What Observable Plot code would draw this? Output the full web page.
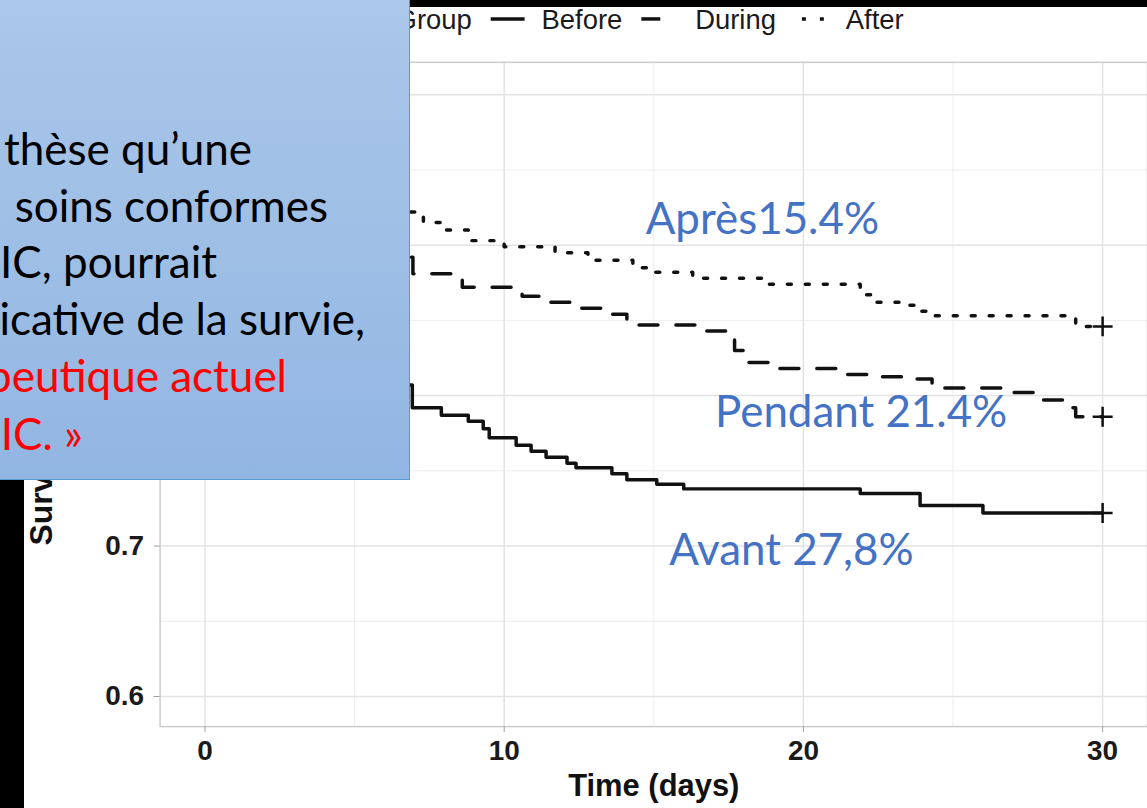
<!DOCTYPE html>
<html>
<head>
<meta charset="utf-8">
<script src="https://cdn.jsdelivr.net/npm/d3@7"></script>
<script src="https://cdn.jsdelivr.net/npm/@observablehq/plot@0.6"></script>
<style>
  html, body { margin: 0; padding: 0; background: #fff; overflow: hidden; width: 1147px; height: 808px; }
  #chart { position: absolute; left: 0; top: 0; }
  #topbar { position: absolute; left: 0; top: 0; width: 1147px; height: 7px; background: #000; }
  #leftbar { position: absolute; left: 0; top: 0; width: 24px; height: 808px; background: #000; }
  #note {
    position: absolute; left: 0; top: 0; width: 409px; height: 479px; overflow: hidden;
    background: linear-gradient(#abc7e9, #92b6e2);
    border-right: 1.5px solid #5b9bd5; border-bottom: 1.5px solid #5b9bd5;
  }
  #note svg { display: block; }
</style>
</head>
<body>
<div id="chart"></div>
<div id="topbar"></div>
<div id="leftbar"></div>
<div id="note"></div>
<script>
// Kaplan–Meier survival by period (days 0–30)
const groups = ["Before", "During", "After"];

const beforeDays = [0, 1.5, 3, 4.5, 6, 6.5, 6.93, 7.9, 8.8, 9.3, 9.5, 10.4, 10.9, 11.4, 12.1, 12.4, 13.6, 14.1, 15.1, 16.0, 21.9, 23.9, 26.0, 30];
const beforeSurv = [1.0, 0.93, 0.88, 0.85, 0.82, 0.807, 0.792, 0.787, 0.783, 0.778, 0.772, 0.767, 0.763, 0.759, 0.755, 0.752, 0.748, 0.744, 0.741, 0.738, 0.735, 0.727, 0.722, 0.722];

const duringDays = [0, 2, 4, 6, 6.6, 6.95, 8.6, 10.6, 11.2, 12.4, 13.6, 14.1, 16.7, 17.4, 17.7, 18.1, 19.1, 21.4, 22.3, 23.8, 24.3, 26.9, 27.9, 28.8, 29.1, 30];
const duringSurv = [1.0, 0.96, 0.93, 0.90, 0.892, 0.881, 0.872, 0.866, 0.862, 0.858, 0.854, 0.847, 0.843, 0.837, 0.830, 0.822, 0.818, 0.814, 0.8126, 0.811, 0.805, 0.802, 0.797, 0.792, 0.786, 0.786];

const afterDays = [0, 2, 4, 6, 6.5, 7.3, 7.9, 8.8, 10.0, 11.7, 12.8, 14.3, 14.8, 16.3, 18.6, 21.9, 22.4, 23.4, 23.9, 24.4, 29.1, 30];
const afterSurv = [1.0, 0.97, 0.95, 0.93, 0.922, 0.915, 0.910, 0.903, 0.899, 0.895, 0.890, 0.885, 0.882, 0.878, 0.874, 0.867, 0.862, 0.860, 0.856, 0.853, 0.846, 0.846];

const labelTexts = ["Après15.4%", "Pendant 21.4%", "Avant 27,8%"];
const labelDays = [18.63, 21.93, 19.6];
const labelSurv = [0.9076, 0.7792, 0.6876];

const xMajor = [0, 10, 20, 30];
const xMinor = [5, 15, 25];
const yMajor = [0.6, 0.7, 0.8, 0.9, 1.0];
const yMinor = [0.65, 0.75, 0.85, 0.95];

const xLabel = "Time (days)";
const yLabel = "Survival probability";
const legendTitle = "Group";

const noteLines = [
  {text: "thèse qu’une", red: false},
  {text: "soins conformes", red: false},
  {text: "IC, pourrait", red: false},
  {text: "icative de la survie,", red: false},
  {text: "peutique actuel", red: true},
  {text: "IC. »", red: true}
];

// long-format rows for the curves
const toRows = (group, days, surv) => days.map((d, i) => ({group, day: d, surv: surv[i]}));
const series = {
  Before: toRows("Before", beforeDays, beforeSurv),
  During: toRows("During", duringDays, duringSurv),
  After: toRows("After", afterDays, afterSurv)
};
const dashes = {Before: null, During: "19 18", After: "4 14"};
const censored = groups.map(g => series[g][series[g].length - 1]);
const labels = labelTexts.map((t, i) => ({text: t, day: labelDays[i], surv: labelSurv[i]}));

const ink = "#111";

const chart = Plot.plot({
  width: 1150,
  height: 808,
  marginLeft: 160,
  marginRight: 0,
  marginTop: 62,
  marginBottom: 80,
  style: {fontFamily: "Liberation Sans, Arial, sans-serif", background: "transparent", overflow: "visible"},
  x: {domain: [-1.5, 31.5]},
  y: {domain: [0.58, 1.0215]},
  marks: [
    Plot.gridY(yMinor, {stroke: "#ededed", strokeOpacity: 1, strokeWidth: 1}),
    Plot.gridX(xMinor, {stroke: "#ededed", strokeOpacity: 1, strokeWidth: 1}),
    Plot.gridY(yMajor, {stroke: "#e3e3e3", strokeOpacity: 1, strokeWidth: 1.5}),
    Plot.gridX(xMajor, {stroke: "#e3e3e3", strokeOpacity: 1, strokeWidth: 1.5}),
    Plot.frame({stroke: "#cccccc", strokeWidth: 1.5}),
    Plot.axisY(yMajor, {
      tickSize: 6, tickPadding: 10, tickFormat: d => d.toFixed(1),
      fontSize: 28, fontWeight: "bold", stroke: "#a0a0a0", fill: "#1a1a1a", label: null
    }),
    Plot.axisX(xMajor, {
      tickSize: 6, tickPadding: 8, tickFormat: d => String(d),
      fontSize: 28, fontWeight: "bold", stroke: "#a0a0a0", fill: "#1a1a1a", label: null
    }),
    ...groups.map(g => Plot.line(series[g], {
      x: "day", y: "surv", curve: "step-after",
      stroke: ink, strokeWidth: 3.5, strokeDasharray: dashes[g]
    })),
    Plot.dot(censored, {x: "day", y: "surv", symbol: "plus", r: 6.5, stroke: ink, strokeWidth: 2.5}),
    Plot.text(labels, {
      x: "day", y: "surv", text: "text", fill: "#4472c4",
      fontSize: 44, fontFamily: "Lato", textAnchor: "middle", lineAnchor: "bottom"
    }),
    Plot.text([xLabel], {frameAnchor: "bottom", dy: 70, fontSize: 31, fontWeight: "bold", fill: ink})
  ]
});

document.getElementById("chart").appendChild(chart);

// y axis title and legend strip
const svg = d3.select(chart);
svg.append("text")
  .attr("transform", "translate(52,547) rotate(-90)")
  .attr("text-anchor", "start")
  .attr("font-size", 32).attr("font-weight", "bold").attr("fill", ink)
  .text(yLabel);

const legend = svg.append("g")
  .attr("font-family", "Liberation Sans, Arial, sans-serif")
  .attr("text-anchor", "start")
  .attr("font-size", 27.5).attr("fill", "#1a1a1a");
legend.append("text").attr("x", 473).attr("y", 29).attr("text-anchor", "end").text(legendTitle);
const keys = [
  {g: "Before", x0: 492, x1: 526, tx: 543},
  {g: "During", x0: 643, x1: 680, tx: 697},
  {g: "After", x0: 804, x1: 830, tx: 848}
];
keys.forEach(k => {
  legend.append("line")
    .attr("x1", k.x0).attr("x2", k.x1).attr("y1", 19).attr("y2", 19)
    .attr("stroke", ink).attr("stroke-width", 3.5)
    .attr("stroke-dasharray", dashes[k.g]);
  legend.append("text").attr("x", k.tx).attr("y", 29).attr("text-anchor", "start").text(k.g);
});

// overlay note box with its text lines
const note = d3.select("#note").append("svg").attr("width", 410).attr("height", 480);
const noteRight = [252, 328, 217, 365, 287, 83];
const noteBase = [165, 222, 278, 335, 392, 450];
note.selectAll("text").data(noteLines).join("text")
  .attr("x", (d, i) => noteRight[i])
  .attr("y", (d, i) => noteBase[i])
  .attr("text-anchor", "end")
  .attr("font-family", "Lato, sans-serif")
  .attr("font-size", 44)
  .attr("fill", d => d.red ? "#ff0000" : "#000")
  .text(d => d.text);
</script>
</body>
</html>
